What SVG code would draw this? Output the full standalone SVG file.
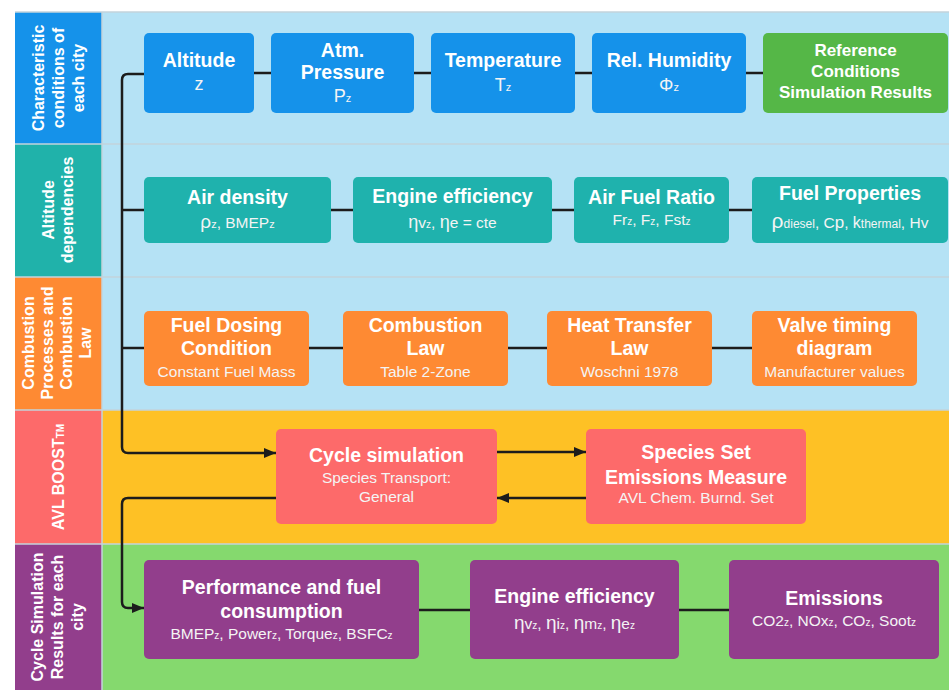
<svg xmlns="http://www.w3.org/2000/svg" width="949" height="690" viewBox="0 0 949 690">
<style>
text{font-family:"Liberation Sans",Arial,sans-serif;fill:#fff;text-anchor:middle}
.t{font-weight:bold;font-size:19.5px}
.tr{font-weight:bold;font-size:17px}
.s{font-size:15.5px;fill:#f4f4f4}
.s18{font-size:18px;fill:#f4f4f4}
.lab{font-weight:bold;font-size:16px}
.c{fill:none;stroke:#1c1c1c;stroke-width:2.5}
.blue{fill:#1592ea}.teal{fill:#1fb2ad}.orange{fill:#fe8a33}.red{fill:#fd6a6a}.purple{fill:#923e8c}.green{fill:#55b747}
.sep{stroke:#c3d3db;stroke-width:1.5}
</style>
<defs>
<marker id="ah" viewBox="0 0 12 10" refX="12" refY="5" markerWidth="12" markerHeight="10" markerUnits="userSpaceOnUse" orient="auto">
<path d="M0,0 L12,5 L0,10 z" fill="#1c1c1c"/>
</marker>
</defs>
<rect x="0" y="0" width="949" height="690" fill="#fff"/>
<g id="bands">
<rect x="102" y="12" width="847" height="398" fill="#b5e2f5"/>
<rect x="102" y="410" width="847" height="134" fill="#fec125"/>
<rect x="102" y="544" width="847" height="146" fill="#85d96e"/>
<rect x="15" y="12" width="87" height="132" fill="#1592ea"/>
<rect x="15" y="144" width="87" height="133" fill="#20b2aa"/>
<rect x="15" y="277" width="87" height="133" fill="#fe8a33"/>
<rect x="15" y="410" width="87" height="134" fill="#fd6a6a"/>
<rect x="15" y="544" width="87" height="146" fill="#923e8c"/>
<line class="sep" x1="15" y1="12" x2="949" y2="12"/>
<line class="sep" x1="15" y1="144" x2="949" y2="144"/>
<line class="sep" x1="15" y1="277" x2="949" y2="277"/>
<line class="sep" x1="15" y1="410" x2="949" y2="410"/>
<line class="sep" x1="15" y1="544" x2="949" y2="544"/>
<line class="sep" x1="102" y1="12" x2="102" y2="690"/>
</g>
<g id="band-labels">
<text class="lab" transform="translate(0,78) rotate(-90)"><tspan x="0" y="44">Characteristic</tspan><tspan x="0" y="64">conditions of</tspan><tspan x="0" y="84">each city</tspan></text>
<text class="lab" transform="translate(0,210) rotate(-90)"><tspan x="0" y="53.5">Altitude</tspan><tspan x="0" y="73">dependencies</tspan></text>
<text class="lab" transform="translate(0,343) rotate(-90)"><tspan x="0" y="34">Combustion</tspan><tspan x="0" y="53">Processes and</tspan><tspan x="0" y="72">Combustion</tspan><tspan x="0" y="91">Law</tspan></text>
<text class="lab" transform="translate(0,477) rotate(-90)"><tspan x="0" y="64">AVL BOOST<tspan font-size="10">TM</tspan></tspan></text>
<text class="lab" transform="translate(0,617) rotate(-90)"><tspan x="0" y="43">Cycle Simulation</tspan><tspan x="0" y="63">Results for each</tspan><tspan x="0" y="83">city</tspan></text>
</g>
<g id="connectors">
<path class="c" d="M144,74 H128 Q122,74 122,80 V447 Q122,453 128,453 H276" marker-end="url(#ah)"/>
<path class="c" d="M122,210 H144"/>
<path class="c" d="M122,348 H144"/>
<path class="c" d="M254,73 H271 M414,73 H431 M575,73 H592 M746,73 H763"/>
<path class="c" d="M331,210 H353 M552,210 H574 M729,210 H752"/>
<path class="c" d="M309,348 H343 M508,348 H547 M712,348 H752"/>
<path class="c" d="M497,452 H586" marker-end="url(#ah)"/>
<path class="c" d="M586,498 H497" marker-end="url(#ah)"/>
<path class="c" d="M276,498 H128 Q122,498 122,504 V602 Q122,608 128,608 H144" marker-end="url(#ah)"/>
<path class="c" d="M419,610 H470 M679,610 H729"/>
</g>
<g id="altitude"><rect class="blue" x="144" y="33" width="110" height="80" rx="5"/>
<text class="t" x="199" y="67">Altitude</text><text class="s18" x="199" y="90">z</text></g>
<g id="atm-pressure"><rect class="blue" x="271" y="33" width="143" height="80" rx="5"/>
<text class="t" x="342.5" y="57">Atm.</text><text class="t" x="342.5" y="79">Pressure</text><text class="s18" x="342.5" y="102">P<tspan font-size="11">z</tspan></text></g>
<g id="temperature"><rect class="blue" x="431" y="33" width="144" height="80" rx="5"/>
<text class="t" x="503" y="67">Temperature</text><text class="s18" x="503" y="91">T<tspan font-size="11">z</tspan></text></g>
<g id="rel-humidity"><rect class="blue" x="592" y="33" width="154" height="80" rx="5"/>
<text class="t" x="669" y="67">Rel. Humidity</text><text class="s18" x="669" y="91">Φ<tspan font-size="11">z</tspan></text></g>
<g id="reference"><rect class="green" x="763" y="33" width="185" height="80" rx="5"/>
<text class="tr" x="855.5" y="56">Reference</text><text class="tr" x="855.5" y="77">Conditions</text><text class="tr" x="855.5" y="98">Simulation Results</text></g>
<g id="air-density"><rect class="teal" x="144" y="177" width="187" height="66" rx="5"/>
<text class="t" x="237.5" y="204">Air density</text><text class="s" x="237.5" y="228"><tspan font-size="19">ρ</tspan><tspan font-size="11">z</tspan>, BMEP<tspan font-size="11">z</tspan></text></g>
<g id="engine-eff-1"><rect class="teal" x="353" y="177" width="199" height="66" rx="5"/>
<text class="t" x="452.5" y="203">Engine efficiency</text><text class="s" x="452.5" y="228"><tspan font-size="18">η</tspan>v<tspan font-size="10">z</tspan>, <tspan font-size="18">η</tspan>e = cte</text></g>
<g id="afr"><rect class="teal" x="574" y="177" width="155" height="66" rx="5"/>
<text class="t" x="651.5" y="204">Air Fuel Ratio</text><text class="s" x="651.5" y="225" font-size="14">Fr<tspan font-size="10">z</tspan>, F<tspan font-size="10">z</tspan>, Fst<tspan font-size="10">z</tspan></text></g>
<g id="fuel-props"><rect class="teal" x="752" y="177" width="196" height="66" rx="5"/>
<text class="t" x="850" y="200">Fuel Properties</text><text class="s" x="850" y="228"><tspan font-size="21">ρ</tspan><tspan font-size="12">diesel</tspan>, C<tspan font-size="17">p</tspan>, <tspan font-size="16">k</tspan><tspan font-size="12">thermal</tspan>, Hv</text></g>
<g id="fuel-dosing"><rect class="orange" x="144" y="311" width="165" height="75" rx="5"/>
<text class="t" x="226.5" y="332">Fuel Dosing</text><text class="t" x="226.5" y="355">Condition</text><text class="s" x="226.5" y="377">Constant Fuel Mass</text></g>
<g id="combustion-law"><rect class="orange" x="343" y="311" width="165" height="75" rx="5"/>
<text class="t" x="425.5" y="332">Combustion</text><text class="t" x="425.5" y="355">Law</text><text class="s" x="425.5" y="377">Table 2-Zone</text></g>
<g id="heat-transfer"><rect class="orange" x="547" y="311" width="165" height="75" rx="5"/>
<text class="t" x="629.5" y="332">Heat Transfer</text><text class="t" x="629.5" y="355">Law</text><text class="s" x="629.5" y="377">Woschni 1978</text></g>
<g id="valve-timing"><rect class="orange" x="752" y="311" width="165" height="75" rx="5"/>
<text class="t" x="834.5" y="332">Valve timing</text><text class="t" x="834.5" y="355">diagram</text><text class="s" x="834.5" y="377">Manufacturer values</text></g>
<g id="cycle-sim"><rect class="red" x="276" y="429" width="221" height="95" rx="5"/>
<text class="t" x="386.5" y="462">Cycle simulation</text><text class="s" x="386.5" y="483">Species Transport:</text><text class="s" x="386.5" y="502">General</text></g>
<g id="species-set"><rect class="red" x="586" y="429" width="220" height="95" rx="5"/>
<text class="t" x="696" y="459">Species Set</text><text class="t" x="696" y="484">Emissions Measure</text><text class="s" x="696" y="503">AVL Chem. Burnd. Set</text></g>
<g id="performance"><rect class="purple" x="144" y="560" width="275" height="99" rx="5"/>
<text class="t" x="281.5" y="594">Performance and fuel</text><text class="t" x="281.5" y="618">consumption</text><text class="s" x="281.5" y="639" font-size="16">BMEP<tspan font-size="10">z</tspan>, Power<tspan font-size="10">z</tspan>, Torque<tspan font-size="10">z</tspan>, BSFC<tspan font-size="10">z</tspan></text></g>
<g id="engine-eff-2"><rect class="purple" x="470" y="560" width="209" height="99" rx="5"/>
<text class="t" x="574.5" y="603">Engine efficiency</text><text class="s" x="574.5" y="629" font-size="16"><tspan font-size="19">η</tspan>v<tspan font-size="10">z</tspan>, <tspan font-size="19">η</tspan>i<tspan font-size="10">z</tspan>, <tspan font-size="19">η</tspan>m<tspan font-size="10">z</tspan>, <tspan font-size="19">η</tspan>e<tspan font-size="10">z</tspan></text></g>
<g id="emissions"><rect class="purple" x="729" y="560" width="210" height="99" rx="5"/>
<text class="t" x="834" y="605">Emissions</text><text class="s" x="834" y="626" font-size="16">CO2<tspan font-size="10">z</tspan>, NOx<tspan font-size="10">z</tspan>, CO<tspan font-size="10">z</tspan>, Soot<tspan font-size="10">z</tspan></text></g>
</svg>
